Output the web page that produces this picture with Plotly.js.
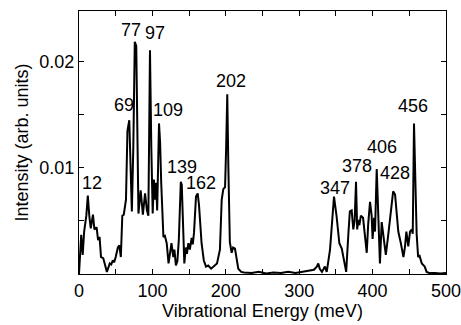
<!DOCTYPE html>
<html>
<head>
<meta charset="utf-8">
<script src="https://cdn.plot.ly/plotly-3.0.1.min.js"></script>
<style>html,body{margin:0;padding:0;background:#fff;}#chart{width:461px;height:325px;}</style>
</head>
<body>
<div id="chart"></div>
<script>
// Vibrational energy (meV)
const energy = [0, 2, 3, 5, 7, 10, 12, 14, 16, 19, 21, 24, 26, 28, 30, 33, 35, 38, 42, 44, 46, 48, 50, 53, 55, 57, 59, 61, 64, 66, 68.5, 70, 72, 74, 76, 78, 79.5, 81, 84, 87, 90, 92.5, 94.5, 96.7, 98.5, 100.4, 102, 103.5, 105, 106.5, 109, 110.5, 112, 115, 117, 119.5, 122, 124, 126, 128.5, 130, 132, 134, 136, 138.7, 140, 142, 143.5, 145.5, 147, 149, 151, 153.5, 155, 156.7, 159.4, 161.7, 163.5, 167, 170, 173, 176, 180, 185, 188, 192, 194.4, 196.6, 199, 200.5, 202, 203.5, 205.5, 208, 210, 212.5, 215, 217, 221, 225, 235, 245, 255, 265, 275, 285, 295, 305, 315, 320, 324, 326, 328, 331, 335, 337.5, 342, 347.4, 351, 354.7, 358, 361, 364, 367, 369, 371.5, 373.7, 375.5, 377.4, 379, 380.5, 382, 384, 387, 389.6, 392, 394, 396.5, 398.7, 400, 402, 403.3, 405.6, 408, 410, 412.4, 414.6, 418, 421, 425, 428, 430.6, 433, 435, 438.5, 442, 444, 446, 448.6, 451, 453.4, 454.7, 456.4, 458, 460, 462, 464, 467, 469, 471, 473.6, 477, 485, 492, 500];
// Intensity (units of 1e-3 arb. units)
const intensityMilli = [0.0, 2.5, 3.7, 1.8, 4.0, 5.5, 7.4, 5.5, 4.3, 5.6, 4.2, 4.4, 3.2, 3.5, 1.6, 1.5, 1.0, 0.2, 1.0, 0.9, 1.3, 1.1, 1.6, 2.5, 2.7, 1.6, 5.5, 5.6, 7.0, 13.5, 14.5, 10.0, 5.9, 12.0, 21.9, 21.5, 12.0, 5.7, 7.9, 5.6, 7.6, 6.0, 5.5, 21.1, 12.0, 5.7, 8.9, 7.0, 8.6, 6.0, 14.2, 12.4, 8.6, 3.5, 3.6, 2.9, 1.0, 1.8, 2.9, 1.6, 2.3, 0.8, 1.2, 3.2, 8.7, 8.4, 2.6, 1.0, 2.5, 1.9, 2.9, 2.3, 3.4, 2.8, 3.9, 7.3, 7.6, 6.5, 2.9, 1.3, 0.7, 0.8, 0.5, 0.8, 1.0, 2.3, 7.0, 8.0, 8.2, 12.0, 16.95, 10.0, 3.0, 2.0, 2.5, 2.4, 1.3, 0.5, 0.2, 0.15, 0.1, 0.2, 0.05, 0.15, 0.1, 0.2, 0.1, 0.2, 0.3, 0.4, 0.7, 1.0, 0.5, 0.2, 0.7, 0.2, 2.3, 7.3, 5.4, 2.9, 2.4, 1.3, 0.2, 3.8, 5.9, 6.0, 4.2, 5.0, 8.7, 4.2, 5.1, 4.6, 5.5, 5.3, 3.5, 2.0, 4.7, 6.8, 5.5, 3.3, 5.3, 4.0, 9.9, 5.1, 1.0, 4.9, 3.5, 1.8, 3.5, 6.3, 7.8, 7.5, 5.7, 4.0, 2.9, 1.6, 2.5, 4.0, 2.6, 4.0, 4.2, 3.8, 14.2, 8.0, 3.8, 1.6, 1.7, 1.0, 0.8, 0.7, 0.2, 0.1, 0.1, 0.05, 0.1];
// Peak labels
const peakLabels = ["12", "69", "77", "97", "109", "139", "162", "202", "347", "378", "406", "428", "456"];
const peakLabelX = [17.7, 61.3, 70.8, 103.5, 120.8, 139.9, 165.8, 206.7, 348.9, 378.3, 413.2, 430.5, 455.4];
const peakLabelYMilli = [8.58, 15.94, 23.0, 22.7, 15.47, 10.06, 8.55, 18.2, 8.08, 10.2, 11.95, 9.5, 15.85];
const yTickVals = [0.005, 0.01, 0.015, 0.02];
const yTickText = ["", "0.01", "", "0.02"];
const xTickVals = [0, 50, 100, 150, 200, 250, 300, 350, 400, 450, 500];
const xTickText = ["0", "", "100", "", "200", "", "300", "", "400", "", "500"];

const intensity = intensityMilli.map(v => v * 1e-3);
const font = "Liberation Sans, Arial, Helvetica, sans-serif";

const trace = {
  x: energy, y: intensity, type: "scatter", mode: "lines",
  line: {color: "#000", width: 2}, hoverinfo: "skip"
};

const annotations = peakLabels.map((t, i) => ({
  x: peakLabelX[i], y: peakLabelYMilli[i] * 1e-3, text: t,
  showarrow: false, xanchor: "center", yanchor: "middle",
  font: {family: font, size: 18, color: "#000"}
}));

const layout = {
  width: 461, height: 325,
  margin: {l: 79, r: 15, t: 11, b: 51},
  paper_bgcolor: "#fff", plot_bgcolor: "#fff",
  showlegend: false,
  font: {family: font, size: 18, color: "#000"},
  xaxis: {
    range: [0, 500], tickmode: "array", tickvals: xTickVals, ticktext: xTickText,
    ticks: "inside", ticklen: 5, tickwidth: 1, tickcolor: "#000",
    showline: true, linecolor: "#000", linewidth: 1, mirror: "ticks",
    showgrid: false, zeroline: false, ticklabeloverflow: "allow",
    tickfont: {family: font, size: 18, color: "#000"},
    title: {text: "Vibrational Energy (meV)", font: {family: font, size: 18, color: "#000"}, standoff: 4}
  },
  yaxis: {
    range: [0, 0.0248], tickmode: "array", tickvals: yTickVals, ticktext: yTickText,
    ticks: "inside", ticklen: 5, tickwidth: 1, tickcolor: "#000",
    showline: true, linecolor: "#000", linewidth: 1, mirror: "ticks",
    showgrid: false, zeroline: false, ticklabeloverflow: "allow",
    tickfont: {family: font, size: 18, color: "#000"},
    title: {text: "Intensity (arb. units)", font: {family: font, size: 18, color: "#000"}, standoff: 6}
  },
  annotations: annotations
};

Plotly.newPlot("chart", [trace], layout, {displayModeBar: false, staticPlot: true});
</script>
</body>
</html>
